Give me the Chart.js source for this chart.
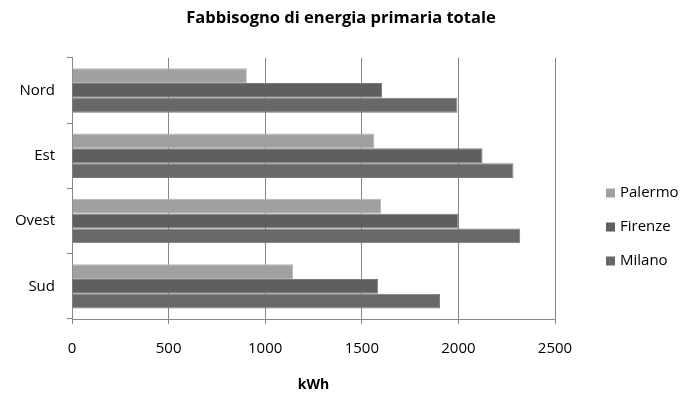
<!DOCTYPE html>
<html>
<head>
<meta charset="utf-8">
<script src="https://cdn.jsdelivr.net/npm/chart.js@4/dist/chart.umd.min.js"></script>
<style>
  html, body { margin: 0; padding: 0; background: #fff; }
  #wrap { width: 682px; height: 397px; }
</style>
</head>
<body>
<div id="wrap"><canvas id="canvas-energia" width="682" height="397"></canvas></div>
<script>
// Dati del grafico
const zone = ['Nord', 'Est', 'Ovest', 'Sud'];
const citta = ['Palermo', 'Firenze', 'Milano'];
const palermo = [905, 1565, 1600, 1145];
const firenze = [1605, 2125, 2000, 1585];
const milano = [1995, 2285, 2320, 1905];
const xTicks = [0, 500, 1000, 1500, 2000, 2500];

const fontName = "'Open Sans', 'Liberation Sans', sans-serif";
const gridColor = '#868686';

// legenda disegnata a mano a destra
const legendaDestra = {
    id: 'legendaDestra',
    afterDraw(chart) {
        const ctx = chart.ctx;
        const yPos = [193, 227, 261];
        ctx.save();
        ctx.font = '15px ' + fontName;
        ctx.textBaseline = 'middle';
        chart.data.datasets.forEach((ds, i) => {
            ctx.fillStyle = ds.backgroundColor;
            ctx.fillRect(606, yPos[i] - 4.5, 9, 9);
            ctx.fillStyle = '#000';
            ctx.fillText(ds.label, 620, yPos[i]);
        });
        ctx.restore();
    }
};

var ctx = document.getElementById('canvas-energia').getContext('2d');
var chartEnergia = new Chart(ctx, {
    type: 'bar',
    data: {
        labels: zone,
        datasets: [{
            label: citta[0],
            data: palermo,
            backgroundColor: '#a0a0a0',
            borderColor: '#b4b4b4',
            borderWidth: 1
        }, {
            label: citta[1],
            data: firenze,
            backgroundColor: '#5f5f5f',
            borderColor: '#7a7a7a',
            borderWidth: 1
        }, {
            label: citta[2],
            data: milano,
            backgroundColor: '#686868',
            borderColor: '#7a7a7a',
            borderWidth: 1
        }]
    },
    options: {
        indexAxis: 'y',
        responsive: false,
        animation: false,
        datasets: {
            bar: { categoryPercentage: 0.68, barPercentage: 1.0 }
        },
        plugins: {
            legend: { display: false },
            tooltip: { enabled: false },
            title: {
                display: true,
                text: 'Fabbisogno di energia primaria totale',
                color: '#000',
                font: { family: fontName, size: 16.5, weight: 'bold' },
                padding: { top: 8, bottom: 30 }
            }
        },
        scales: {
            x: {
                min: 0,
                max: 2500,
                afterBuildTicks: (scale) => {
                    scale.ticks = xTicks.map(v => ({ value: v }));
                },
                afterFit: (scale) => { scale.height = 78; },
                grid: {
                    color: gridColor,
                    lineWidth: 1,
                    tickLength: 5
                },
                border: { color: gridColor, width: 1 },
                ticks: {
                    color: '#000',
                    padding: 16,
                    font: { family: fontName, size: 15 },
                    callback: (v) => String(v)
                },
                title: {
                    display: true,
                    text: 'kWh',
                    color: '#000',
                    font: { family: fontName, size: 14, weight: 'bold' },
                    padding: { top: 7, bottom: 4 }
                }
            },
            y: {
                afterFit: (scale) => { scale.width = 72; },
                grid: {
                    drawOnChartArea: false,
                    drawTicks: true,
                    tickLength: 5,
                    color: gridColor
                },
                border: { color: gridColor, width: 1 },
                ticks: {
                    color: '#000',
                    padding: 12,
                    font: { family: fontName, size: 15 }
                }
            },
            // asse vuoto a destra, solo per lasciare spazio alla legenda
            spazio: {
                type: 'linear',
                axis: 'y',
                position: 'right',
                display: true,
                grid: { display: false },
                border: { display: false },
                ticks: { display: false },
                afterFit: (scale) => { scale.width = 127; }
            }
        }
    },
    plugins: [legendaDestra]
});
</script>
</body>
</html>
